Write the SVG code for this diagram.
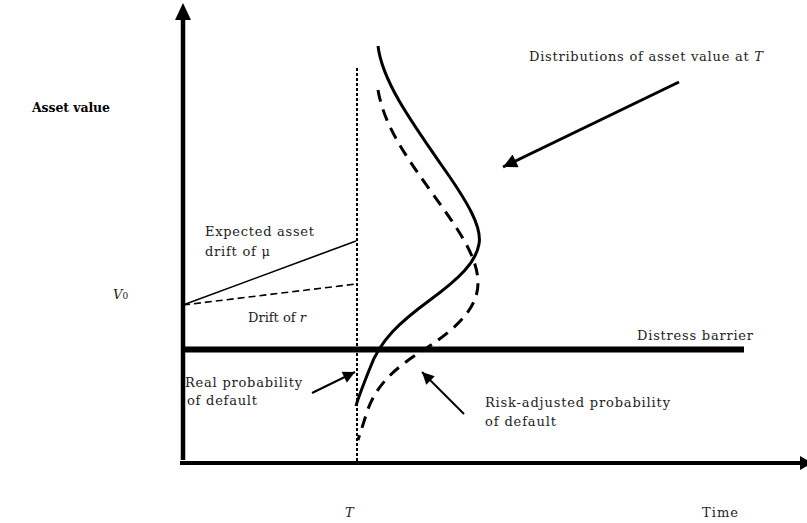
<svg xmlns="http://www.w3.org/2000/svg" width="807" height="523" viewBox="0 0 807 523">
<defs>
<style>
.t{font-family:"DejaVu Serif","Liberation Serif",serif;font-size:13px;fill:#222}
.b{font-weight:bold;fill:#000;font-size:12.5px}
.i{font-style:italic}
.ax{stroke:#000;fill:none}
</style>
<marker id="ah" viewBox="0 0 10 10" refX="10" refY="5" markerWidth="14" markerHeight="12" markerUnits="userSpaceOnUse" orient="auto">
<path d="M0,0 L10,5 L0,10 z" fill="#000"/>
</marker>
<marker id="ah2" viewBox="0 0 10 10" refX="10" refY="5" markerWidth="18" markerHeight="14" markerUnits="userSpaceOnUse" orient="auto">
<path d="M0,0 L10,5 L0,10 z" fill="#000"/>
</marker>
</defs>
<rect width="807" height="523" fill="#fff"/>
<g id="axes">
<line x1="183" y1="460" x2="183" y2="18" class="ax" stroke-width="4.5"/>
<path d="M175,20 L183,3 L191,20 z" fill="#000"/>
<line x1="180" y1="463" x2="801" y2="463" class="ax" stroke-width="4"/>
<path d="M800,456 L812,463 L800,470 z" fill="#000"/>
<line x1="183" y1="349.5" x2="744" y2="349.5" class="ax" stroke-width="6"/>
<line x1="357" y1="68" x2="357" y2="463" class="ax" stroke-width="2" stroke-dasharray="3 2"/>
</g>
<g id="curves">
<line x1="183" y1="305" x2="356" y2="241" class="ax" stroke-width="1.6"/>
<line x1="183" y1="305" x2="356" y2="284" class="ax" stroke-width="1.6" stroke-dasharray="7 4"/>
<path d="M378,46 C382,80 410,120 440,163 C470,205 482,228 479,244 C476,262 460,278 430,300 C400,322 380,340 370,368 C362,388 358,398 356,406" class="ax" stroke-width="3"/>
<path d="M378,90 C384,125 405,155 430,190 C455,225 478,255 478,283 C478,305 462,325 425,349 C395,368 375,385 366,415 C362,428 360,434 358,440" class="ax" stroke-width="3" stroke-dasharray="12 8"/>
</g>
<g id="connectors">
<line x1="679" y1="82" x2="503" y2="167" class="ax" stroke-width="3" marker-end="url(#ah2)"/>
<line x1="312" y1="393" x2="355" y2="372" class="ax" stroke-width="2" marker-end="url(#ah)"/>
<line x1="464" y1="414" x2="422" y2="372" class="ax" stroke-width="2" marker-end="url(#ah)"/>
</g>
<g id="labels">
<text class="t b" x="32" y="112" textLength="78">Asset value</text>
<text class="t" x="529" y="61" textLength="234">Distributions of asset value at <tspan class="i">T</tspan></text>
<text class="t" x="205" y="236" textLength="109">Expected asset</text>
<text class="t" x="205" y="256" textLength="65">drift of μ</text>
<text class="t" x="248" y="322">Drift of <tspan class="i">r</tspan></text>
<text class="t" x="113" y="299"><tspan class="i">V</tspan><tspan font-size="9">0</tspan></text>
<text class="t" x="637" y="340" textLength="116">Distress barrier</text>
<text class="t" x="185" y="387" textLength="117">Real probability</text>
<text class="t" x="187" y="405" textLength="70">of default</text>
<text class="t" x="485" y="407" textLength="185">Risk-adjusted probability</text>
<text class="t" x="485" y="426" textLength="71">of default</text>
<text class="t i" x="345" y="517">T</text>
<text class="t" x="702" y="517" textLength="36">Time</text>
</g>
</svg>
